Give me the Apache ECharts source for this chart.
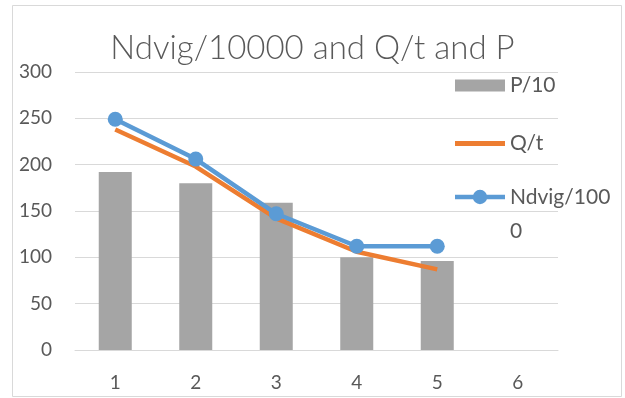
<!DOCTYPE html>
<html><head><meta charset="utf-8">
<script src="https://cdn.jsdelivr.net/npm/echarts@6/dist/echarts.min.js"></script>
<style>html,body{margin:0;padding:0;background:#fff}#c{width:625px;height:398px}</style>
</head><body><div id="c"></div>
<script>
const categories = ['1','2','3','4','5','6'];
const pData = [192, 180, 159, 100, 96, null];
const qData = [238, 198, 142, 106, 87, null];
const nData = [249, 206, 147, 112, 112, null];
const yTicks = [0, 50, 100, 150, 200, 250, 300];

const txt = '#595959';
const font = 'Lato';
const chart = echarts.init(document.getElementById('c'), null, {renderer:'canvas'});
function lg(item, top, extra) {
  return Object.assign({
    data: [item], left: 455, top: top, orient: 'vertical', selectedMode: false,
    padding: 0, itemWidth: 50, itemHeight: 12, itemGap: 0,
    textStyle: {color: txt, fontFamily: font, fontSize: 21}
  }, extra || {});
}
chart.setOption({
  animation: false,
  backgroundColor: '#fff',
  title: {text: 'Ndvig/10000 and Q/t and P', left: 'center', top: 27,
    textStyle: {color: txt, fontFamily: font, fontSize: 33, fontWeight: 300}},
  graphic: [{type:'rect', shape:{x:12.5, y:5.5, width:609, height:391},
    style:{fill:'none', stroke:'#D9D9D9', lineWidth:1}, silent:true}],
  legend: [
    lg({name: 'P/10', icon: 'rect'}, 75),
    lg({name: 'Q/t', icon: 'rect'}, 133, {itemHeight: 5}),
    lg({name: 'Ndvig/1000',
        icon: 'path://M0,5.25h52v4.5h-52z M33.5,7.5a7.5,7.5 0 1,1 -15,0a7.5,7.5 0 1,1 15,0z'},
      146, {itemHeight: 15, formatter: n => ' \n' + n.slice(0,9) + '\n' + n.slice(9),
      textStyle: {color: txt, fontFamily: font, fontSize: 21, lineHeight: 34}})
  ],
  grid: {left: 75, right: 67, top: 72, bottom: 48, containLabel: false},
  xAxis: {type: 'category', data: categories,
    axisLine: {show: true, lineStyle: {color: '#D9D9D9', width: 1}},
    axisTick: {show: false},
    axisLabel: {color: txt, fontFamily: font, fontSize: 19, margin: 23}},
  yAxis: {type: 'value', min: yTicks[0], max: yTicks[yTicks.length-1], interval: 50,
    axisLine: {show: false}, axisTick: {show: false},
    splitLine: {lineStyle: {color: '#D9D9D9', width: 1}},
    axisLabel: {color: txt, fontFamily: font, fontSize: 19, margin: 23}},
  series: [
    {name: 'P/10', type: 'bar', data: pData, barWidth: 33, itemStyle: {color: '#A5A5A5'}},
    {name: 'Q/t', type: 'line', data: qData, showSymbol: false, symbol: 'none',
      lineStyle: {color: '#ED7D31', width: 4.5}, itemStyle: {color: '#ED7D31'}},
    {name: 'Ndvig/1000', type: 'line', data: nData, symbol: 'circle', symbolSize: 15,
      lineStyle: {color: '#5B9BD5', width: 4.5}, itemStyle: {color: '#5B9BD5'}}
  ]
});
</script></body></html>
